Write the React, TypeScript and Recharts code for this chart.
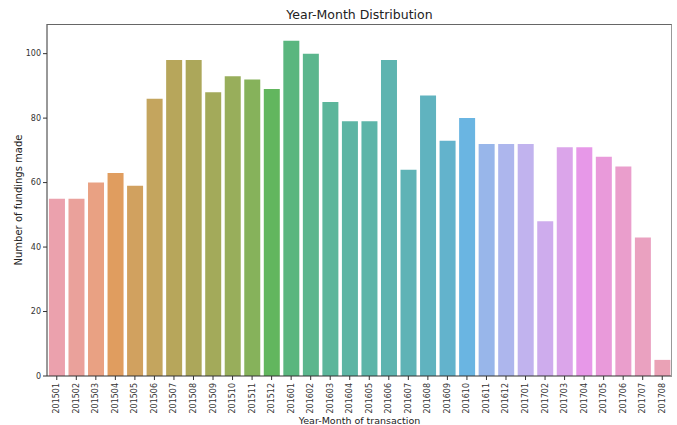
import { BarChart, Bar, Cell, XAxis, YAxis, Label } from "recharts";

const months = [
  "201501", "201502", "201503", "201504", "201505", "201506", "201507", "201508",
  "201509", "201510", "201511", "201512", "201601", "201602", "201603", "201604",
  "201605", "201606", "201607", "201608", "201609", "201610", "201611", "201612",
  "201701", "201702", "201703", "201704", "201705", "201706", "201707", "201708",
];

const counts = [
  55, 55, 60, 63, 59, 86, 98, 98, 88, 93, 92, 89, 104, 100, 85, 79,
  79, 98, 64, 87, 73, 80, 72, 72, 72, 48, 71, 71, 68, 65, 43, 5,
];

const colors = [
  "#eba1ad", "#eaa19b", "#e9a183", "#e09d5f", "#d1a15f", "#c4a55e", "#b7a65b", "#aca75a",
  "#a3aa5a", "#98ae5b", "#86b25b", "#62b65e", "#5ab67e", "#5bb68d", "#5cb69b", "#5db5a4",
  "#5db5a9", "#5eb4b0", "#5fb3b6", "#60b3bf", "#63b3cc", "#6ab5e2", "#98b6ea", "#adb6ed",
  "#c1b3ee", "#ceaced", "#dba5ea", "#e798e8", "#e99ada", "#ea9ecc", "#eaa1c0", "#eaa2b6",
];

const yTicks = [0, 20, 40, 60, 80, 100];

const data = months.map((m, i) => ({ month: m, count: counts[i] }));

const font = "'DejaVu Sans', sans-serif";

const RotatedTick = (props: any) => {
  const { x, y, payload } = props;
  return (
    <g transform={`translate(${x},${y + 1})`}>
      <text
        transform="rotate(-90)"
        textAnchor="end"
        dominantBaseline="central"
        fontSize={8}
        fill="#333"
        fontFamily={font}
      >
        {payload.value}
      </text>
    </g>
  );
};

export default function App() {
  return (
    <div style={{ position: "relative", width: 677, height: 425, fontFamily: font }}>
      <style>{"body{margin:0}"}</style>
      <div
        style={{
          position: "absolute",
          left: 0,
          top: 7,
          width: 719,
          textAlign: "center",
          fontSize: 12.5,
          color: "#222",
        }}
      >
        Year-Month Distribution
      </div>
      <BarChart
        width={677}
        height={425}
        data={data}
        margin={{ top: 24, right: 5, bottom: 0, left: 0 }}
        barCategoryGap="10%"
      >
        <XAxis
          dataKey="month"
          interval={0}
          height={49}
          tick={<RotatedTick />}
          tickLine={{ stroke: "#333" }}
          tickSize={4}
          axisLine={{ stroke: "#333" }}
        >
          <Label
            value="Year-Month of transaction"
            position="insideBottom"
            offset={1}
            style={{ fontSize: 9.5, fill: "#222", fontFamily: font }}
          />
        </XAxis>
        <YAxis
          width={47}
          domain={[0, 109.2]}
          ticks={yTicks}
          allowDataOverflow
          tick={{ fontSize: 8, fill: "#333", fontFamily: font }}
          tickLine={{ stroke: "#333" }}
          tickSize={4}
          axisLine={{ stroke: "#333" }}
        >
          <Label
            value="Number of fundings made"
            angle={-90}
            position="insideLeft"
            offset={18}
            style={{ fontSize: 10, fill: "#222", fontFamily: font, textAnchor: "middle" }}
          />
        </YAxis>
        <Bar dataKey="count" isAnimationActive={false}>
          {data.map((d, i) => (
            <Cell key={d.month} fill={colors[i]} />
          ))}
        </Bar>
      </BarChart>
      <div
        style={{
          position: "absolute",
          left: 47,
          top: 24,
          width: 624,
          height: 352,
          borderTop: "1px solid #666",
          borderRight: "1px solid #999",
          pointerEvents: "none",
        }}
      />
    </div>
  );
}
